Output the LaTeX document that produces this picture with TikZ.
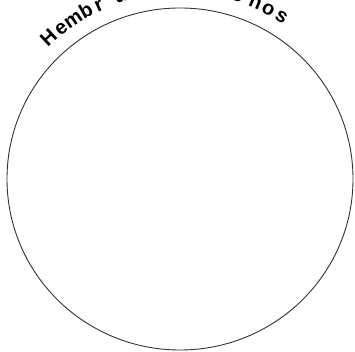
\documentclass[tikz,border=0pt]{standalone}
\usepackage{fontspec}
\usetikzlibrary{calc}
\setmainfont{Liberation Sans}
\begin{document}
\begin{tikzpicture}[x=1pt,y=1pt,
  rim/.style={draw=black!80,line width=0.9pt},
  letter/.style={font=\fontsize{20}{20}\selectfont\bfseries,inner sep=0pt,anchor=base}]
\useasboundingbox (0,0) rectangle (355,352);
\clip (0,0) rectangle (355,352);
\fill[white] (0,0) rectangle (355,352);
\coordinate (c) at (180,173);
\draw[rim] (c) ellipse [x radius=173, y radius=171];
\foreach \ch/\ang [count=\i] in {H/133,e/128.3,m/123.8,b/119.2,r/115,a/108,s/103,y/95,M/86,a/78,c/72.5,h/66.8,o/62.5,s/58}{
  \node[letter,rotate=\ang-90] (l\i) at ($(c)+(\ang:186)$) {\ch};
}
\end{tikzpicture}
\end{document}
